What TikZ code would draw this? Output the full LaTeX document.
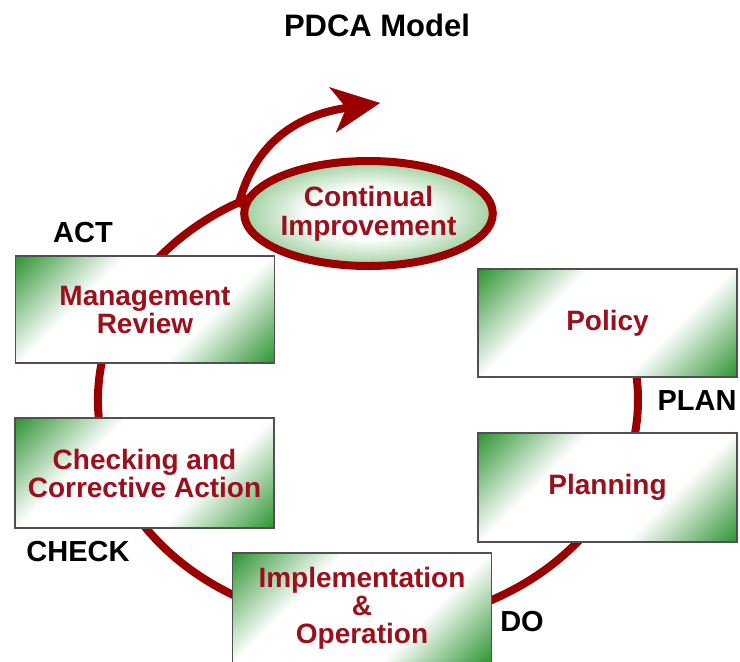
\documentclass[tikz,border=0pt]{standalone}
\usepackage{fontspec}
\setmainfont{Liberation Sans}
\usepackage{tikz}
\usetikzlibrary{shapes.geometric}
\usetikzlibrary{arrows.meta,calc,backgrounds}
\definecolor{ringred}{RGB}{155,0,0}
\definecolor{phasered}{RGB}{155,16,28}
\definecolor{boxgreen}{RGB}{30,140,36}
\definecolor{ovalgreen}{RGB}{160,208,160}
\definecolor{boxedge}{RGB}{80,80,80}
\pgfdeclareverticalshading{diaggreen}{100bp}{color(0bp)=(boxgreen); color(13bp)=(boxgreen); color(36bp)=(white); color(64bp)=(white); color(87bp)=(boxgreen); color(100bp)=(boxgreen)}
\pgfdeclareradialshading{ovalshade}{\pgfpoint{0bp}{0bp}}{color(0bp)=(white); color(12bp)=(white); color(25bp)=(ovalgreen); color(50bp)=(ovalgreen)}
\tikzstyle{pdca}=[
  x=1pt,y=-1pt,font=\bfseries
]
\tikzstyle{phasebox}=[
  rectangle,draw=boxedge,line width=1.6pt,minimum width=259pt,minimum height=108pt,
  inner sep=0pt,align=center,text=phasered,
  font=\fontsize{28}{28}\selectfont\bfseries,
  shade,shading=diaggreen,shading angle=45
]
\tikzstyle{improvebox}=[
  ellipse,draw=ringred,line width=8pt,minimum width=240pt,minimum height=105pt,
  inner sep=0pt,align=center,text=phasered,
  font=\fontsize{28}{29}\selectfont\bfseries,
  shade,shading=ovalshade
]
\tikzstyle{stagetext}=[
  inner sep=0pt,font=\fontsize{29}{30}\selectfont\bfseries
]
\tikzstyle{ring}=[
  draw=ringred,line width=8pt
]

\begin{document}
\begin{tikzpicture}[pdca]
  \useasboundingbox (0,0) rectangle (740,662);
  \node (title) [inner sep=0pt,font=\fontsize{31}{32}\selectfont\bfseries] at (377,25) {PDCA Model};
  % the five phases
  \node (mgmt) [phasebox,minimum height=107pt] at (145,309.5) {Management\\Review};
  \node (check) [phasebox,minimum height=110pt] at (144.5,473) {Checking and\\Corrective Action};
  \node (impl) [phasebox,minimum height=110pt] at (362,608) {Implementation\\\&\\Operation};
  \node (policy) [phasebox] at (607.5,323) {Policy};
  \node (planning) [phasebox,minimum height=109pt] at (607.5,487.5) {Planning};
  \node (improve) [improvebox] at (368.5,213.5) {Continual\\Improvement};
  % stage names
  \node (act) [stagetext] at (83,233) {ACT};
  \node (plan) [stagetext] at (697,401) {PLAN};
  \node (do) [stagetext] at (522,622) {DO};
  \node (checklbl) [stagetext] at (78,552) {CHECK};
  \begin{scope}[on background layer]
    \coordinate (ringcentre) at (368,400);
    \draw [ring] (ringcentre) ++(110:270pt and 225pt)
      arc [start angle=110,end angle=386,x radius=270pt,y radius=225pt];
    \coordinate (loopstart) at (238,207);
    \coordinate (looptip) at (380,103);
    \draw [ring,-{Stealth[length=48pt,width=46pt,inset=14pt,line width=0.4pt]}]
      (loopstart) .. controls (250,156) and (284,117) .. (looptip);
  \end{scope}
\end{tikzpicture}
\end{document}
